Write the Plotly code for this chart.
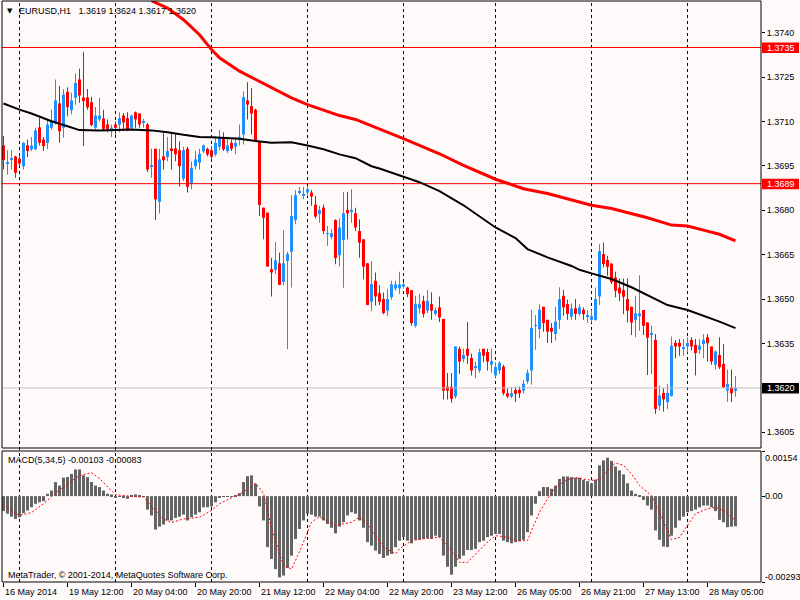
import plotly.graph_objects as go
from datetime import datetime, timedelta

# ---------------- data ----------------
# trading sessions shown (date, first hour, last hour) - H1 bars
sessions = [("2014-05-16", 19, 22), ("2014-05-19", 0, 23), ("2014-05-20", 0, 23),
            ("2014-05-21", 0, 23), ("2014-05-22", 0, 23), ("2014-05-23", 0, 22),
            ("2014-05-26", 0, 23), ("2014-05-27", 0, 23), ("2014-05-28", 0, 12)]

open_ = [1.37019, 1.36958, 1.36970, 1.36982, 1.36974, 1.36949, 1.37019, 1.37006, 1.37006, 1.37080,
         1.37039, 1.37028, 1.37079, 1.37096, 1.37161, 1.37079, 1.37200, 1.37138, 1.37180, 1.37242,
         1.37181, 1.37181, 1.37165, 1.37079, 1.37107, 1.37110, 1.37090, 1.37067, 1.37090, 1.37089,
         1.37120, 1.37111, 1.37079, 1.37131, 1.37127, 1.37098, 1.37090, 1.36949, 1.37008, 1.36828,
         1.36982, 1.36980, 1.37009, 1.37009, 1.37003, 1.36907, 1.37008, 1.36891, 1.36949, 1.36961,
         1.36999, 1.37008, 1.37003, 1.36989, 1.37015, 1.37043, 1.37000, 1.37028, 1.37015, 1.37037,
         1.37056, 1.37171, 1.37152, 1.37140, 1.37034, 1.36809, 1.36792, 1.36601, 1.36599, 1.36621,
         1.36558, 1.36629, 1.36660, 1.36767, 1.36860, 1.36850, 1.36860, 1.36860, 1.36819, 1.36787,
         1.36809, 1.36721, 1.36710, 1.36767, 1.36648, 1.36700, 1.36801, 1.36797, 1.36790, 1.36730,
         1.36702, 1.36621, 1.36491, 1.36562, 1.36520, 1.36500, 1.36461, 1.36506, 1.36536, 1.36536,
         1.36542, 1.36539, 1.36530, 1.36410, 1.36469, 1.36494, 1.36461, 1.36483, 1.36450, 1.36472,
         1.36433, 1.36204, 1.36204, 1.36171, 1.36332, 1.36298, 1.36332, 1.36301, 1.36268, 1.36259,
         1.36332, 1.36321, 1.36278, 1.36242, 1.36259, 1.36272, 1.36182, 1.36171, 1.36193, 1.36193,
         1.36191, 1.36222, 1.36259, 1.36410, 1.36399, 1.36474, 1.36430, 1.36403, 1.36382, 1.36430,
         1.36511, 1.36483, 1.36441, 1.36469, 1.36450, 1.36464, 1.36441, 1.36430, 1.36430, 1.36509,
         1.36652, 1.36632, 1.36620, 1.36573, 1.36539, 1.36530, 1.36500, 1.36474, 1.36430, 1.36442,
         1.36463, 1.36421, 1.36381, 1.36362, 1.36140, 1.36183, 1.36152, 1.36172, 1.36352, 1.36352,
         1.36332, 1.36340, 1.36362, 1.36345, 1.36329, 1.36348, 1.36371, 1.36340, 1.36278, 1.36311,
         1.36281, 1.36191, 1.36202, 1.36190]
high = [1.37051, 1.37003, 1.37003, 1.36984, 1.36983, 1.37030, 1.37039, 1.37048, 1.37079, 1.37112,
        1.37048, 1.37107, 1.37140, 1.37242, 1.37221, 1.37210, 1.37216, 1.37197, 1.37262, 1.37278,
        1.37336, 1.37210, 1.37183, 1.37149, 1.37180, 1.37140, 1.37107, 1.37090, 1.37101, 1.37131,
        1.37129, 1.37131, 1.37124, 1.37134, 1.37129, 1.37109, 1.37096, 1.37008, 1.37008, 1.37008,
        1.37062, 1.37048, 1.37060, 1.37060, 1.37033, 1.37015, 1.37015, 1.36965, 1.37000, 1.37008,
        1.37022, 1.37011, 1.37017, 1.37051, 1.37071, 1.37064, 1.37045, 1.37039, 1.37048, 1.37090,
        1.37202, 1.37233, 1.37213, 1.37143, 1.37034, 1.36809, 1.36792, 1.36640, 1.36693, 1.36657,
        1.36733, 1.36660, 1.36851, 1.36869, 1.36880, 1.36880, 1.36882, 1.36869, 1.36848, 1.36815,
        1.36820, 1.36747, 1.36736, 1.36770, 1.36772, 1.36862, 1.36862, 1.36871, 1.36809, 1.36770,
        1.36702, 1.36621, 1.36629, 1.36590, 1.36547, 1.36522, 1.36534, 1.36562, 1.36562, 1.36592,
        1.36558, 1.36542, 1.36530, 1.36511, 1.36517, 1.36511, 1.36531, 1.36523, 1.36472, 1.36509,
        1.36433, 1.36250, 1.36250, 1.36340, 1.36340, 1.36332, 1.36423, 1.36315, 1.36289, 1.36332,
        1.36332, 1.36332, 1.36332, 1.36287, 1.36289, 1.36278, 1.36199, 1.36203, 1.36203, 1.36205,
        1.36227, 1.36262, 1.36464, 1.36446, 1.36483, 1.36474, 1.36430, 1.36419, 1.36474, 1.36540,
        1.36531, 1.36498, 1.36485, 1.36500, 1.36483, 1.36472, 1.36463, 1.36463, 1.36539, 1.36685,
        1.36691, 1.36646, 1.36620, 1.36592, 1.36570, 1.36570, 1.36570, 1.36474, 1.36511, 1.36581,
        1.36463, 1.36421, 1.36410, 1.36382, 1.36208, 1.36199, 1.36214, 1.36374, 1.36362, 1.36365,
        1.36365, 1.36371, 1.36371, 1.36365, 1.36365, 1.36382, 1.36382, 1.36340, 1.36326, 1.36371,
        1.36348, 1.36262, 1.36262, 1.36240]
low = [1.36938, 1.36921, 1.36938, 1.36910, 1.36949, 1.36938, 1.36980, 1.37000, 1.37003, 1.37019,
       1.37000, 1.37006, 1.37073, 1.37090, 1.37028, 1.37045, 1.37118, 1.37124, 1.37157, 1.37163,
       1.37017, 1.37140, 1.37084, 1.37075, 1.37101, 1.37067, 1.37064, 1.37048, 1.37056, 1.37064,
       1.37067, 1.37067, 1.37071, 1.37079, 1.37079, 1.37079, 1.36929, 1.36910, 1.36767, 1.36789,
       1.36938, 1.36966, 1.36938, 1.36966, 1.36880, 1.36899, 1.36860, 1.36871, 1.36938, 1.36938,
       1.36994, 1.36983, 1.36972, 1.36983, 1.37003, 1.37000, 1.36994, 1.37000, 1.36989, 1.37019,
       1.37022, 1.37107, 1.37056, 1.37031, 1.36781, 1.36702, 1.36610, 1.36509, 1.36584, 1.36548,
       1.36547, 1.36331, 1.36539, 1.36753, 1.36854, 1.36837, 1.36848, 1.36815, 1.36772, 1.36758,
       1.36719, 1.36680, 1.36702, 1.36618, 1.36610, 1.36538, 1.36702, 1.36758, 1.36730, 1.36640,
       1.36567, 1.36480, 1.36461, 1.36478, 1.36480, 1.36449, 1.36442, 1.36498, 1.36528, 1.36517,
       1.36536, 1.36506, 1.36410, 1.36404, 1.36451, 1.36438, 1.36453, 1.36430, 1.36444, 1.36423,
       1.36161, 1.36161, 1.36150, 1.36163, 1.36247, 1.36287, 1.36281, 1.36242, 1.36233, 1.36251,
       1.36287, 1.36259, 1.36251, 1.36236, 1.36247, 1.36175, 1.36166, 1.36166, 1.36152, 1.36166,
       1.36180, 1.36214, 1.36211, 1.36329, 1.36368, 1.36390, 1.36352, 1.36352, 1.36360, 1.36399,
       1.36444, 1.36430, 1.36430, 1.36430, 1.36445, 1.36430, 1.36419, 1.36421, 1.36427, 1.36480,
       1.36607, 1.36579, 1.36551, 1.36506, 1.36494, 1.36449, 1.36421, 1.36379, 1.36371, 1.36393,
       1.36379, 1.36244, 1.36247, 1.36112, 1.36124, 1.36120, 1.36129, 1.36172, 1.36300, 1.36309,
       1.36309, 1.36320, 1.36326, 1.36242, 1.36315, 1.36300, 1.36289, 1.36278, 1.36262, 1.36264,
       1.36199, 1.36152, 1.36152, 1.36170]
close = [1.36970, 1.36963, 1.36974, 1.36927, 1.36958, 1.37028, 1.37000, 1.37019, 1.37070, 1.37028,
         1.37017, 1.37090, 1.37101, 1.37171, 1.37067, 1.37191, 1.37148, 1.37171, 1.37230, 1.37188,
         1.37169, 1.37148, 1.37088, 1.37120, 1.37120, 1.37075, 1.37075, 1.37079, 1.37079, 1.37111,
         1.37097, 1.37070, 1.37120, 1.37107, 1.37090, 1.37100, 1.36938, 1.36951, 1.36837, 1.36972,
         1.36969, 1.37000, 1.37000, 1.36989, 1.36949, 1.37003, 1.36879, 1.36943, 1.36972, 1.36991,
         1.37019, 1.36989, 1.36981, 1.37028, 1.37048, 1.37006, 1.37019, 1.37008, 1.37028, 1.37048,
         1.37182, 1.37157, 1.37127, 1.37034, 1.36818, 1.36775, 1.36610, 1.36590, 1.36631, 1.36548,
         1.36621, 1.36652, 1.36781, 1.36851, 1.36862, 1.36852, 1.36871, 1.36846, 1.36779, 1.36801,
         1.36730, 1.36723, 1.36722, 1.36639, 1.36742, 1.36790, 1.36790, 1.36800, 1.36742, 1.36691,
         1.36610, 1.36480, 1.36551, 1.36509, 1.36491, 1.36453, 1.36500, 1.36550, 1.36550, 1.36550,
         1.36550, 1.36517, 1.36419, 1.36483, 1.36483, 1.36450, 1.36494, 1.36461, 1.36463, 1.36438,
         1.36191, 1.36191, 1.36163, 1.36340, 1.36289, 1.36311, 1.36309, 1.36259, 1.36271, 1.36321,
         1.36309, 1.36289, 1.36290, 1.36270, 1.36285, 1.36182, 1.36171, 1.36182, 1.36180, 1.36182,
         1.36214, 1.36251, 1.36403, 1.36412, 1.36464, 1.36419, 1.36390, 1.36390, 1.36424, 1.36500,
         1.36472, 1.36450, 1.36468, 1.36450, 1.36472, 1.36449, 1.36443, 1.36442, 1.36500, 1.36662,
         1.36618, 1.36609, 1.36558, 1.36528, 1.36519, 1.36508, 1.36461, 1.36421, 1.36452, 1.36452,
         1.36410, 1.36370, 1.36383, 1.36129, 1.36174, 1.36161, 1.36183, 1.36343, 1.36340, 1.36340,
         1.36335, 1.36352, 1.36340, 1.36318, 1.36343, 1.36362, 1.36351, 1.36289, 1.36323, 1.36270,
         1.36202, 1.36214, 1.36182, 1.36200]

# moving averages (read at sample bars)
ma_black_idx = [0, 4, 7, 12, 16, 19, 24, 32, 37, 41, 45, 49, 52, 59, 63, 67, 72, 74, 76, 80, 84, 88,
                92, 94, 97, 100, 104, 109, 115, 123, 128, 131, 136, 142, 144, 147, 152, 157, 162,
                166, 171, 175, 179, 183]
ma_black_val = [1.37161, 1.37140, 1.37127, 1.37101, 1.37084, 1.37071, 1.37070, 1.37073, 1.37070,
                1.37064, 1.37055, 1.37048, 1.37047, 1.37042, 1.37034, 1.37028, 1.37030, 1.37025,
                1.37019, 1.37006, 1.36989, 1.36976, 1.36949, 1.36941, 1.36927, 1.36912, 1.36895,
                1.36865, 1.36817, 1.36742, 1.36706, 1.36669, 1.36641, 1.36612, 1.36599, 1.36587,
                1.36568, 1.36540, 1.36506, 1.36480, 1.36463, 1.36444, 1.36424, 1.36402]
ma_red_idx = [37, 41, 45, 49, 52, 54, 59, 63, 68, 72, 76, 80, 84, 88, 93, 100, 109, 115, 123, 130,
              136, 147, 152, 161, 167, 171, 175, 179, 183]
ma_red_val = [1.37508, 1.37483, 1.37444, 1.37393, 1.37343, 1.37315, 1.37270, 1.37242, 1.37208,
              1.37180, 1.37157, 1.37138, 1.37120, 1.37107, 1.37081, 1.37042, 1.36991, 1.36952,
              1.36905, 1.36873, 1.36857, 1.36817, 1.36806, 1.36775, 1.36750, 1.36747, 1.36733,
              1.36719, 1.36697]

# MACD(5,34,5) histogram, one value per bar
macd = [-0.00051, -0.00060, -0.00070, -0.00078, -0.00072, -0.00058, -0.00049, -0.00038, -0.00026, -0.00021,
        -0.00017, 0.00008, 0.00019, 0.00048, 0.00036, 0.00063, 0.00065, 0.00076, 0.00091, 0.00091,
        0.00071, 0.00065, 0.00048, 0.00036, 0.00031, 0.00019, 0.00008, 0.00006, -0.00003, -0.00001,
        -0.00003, -0.00009, 0.00002, 0.00006, 0.00002, -0.00001, -0.00046, -0.00066, -0.00114, -0.00104,
        -0.00097, -0.00083, -0.00083, -0.00074, -0.00070, -0.00063, -0.00083, -0.00072, -0.00063, -0.00055,
        -0.00038, -0.00038, -0.00035, -0.00021, -0.00003, -0.00001, -0.00001, -0.00001, 0.00002, 0.00010,
        0.00048, 0.00068, 0.00071, 0.00042, -0.00035, -0.00083, -0.00174, -0.00214, -0.00249, -0.00277,
        -0.00271, -0.00245, -0.00203, -0.00146, -0.00112, -0.00083, -0.00060, -0.00063, -0.00070, -0.00070,
        -0.00083, -0.00095, -0.00108, -0.00127, -0.00104, -0.00089, -0.00066, -0.00055, -0.00060, -0.00083,
        -0.00108, -0.00157, -0.00169, -0.00186, -0.00197, -0.00211, -0.00203, -0.00197, -0.00174, -0.00152,
        -0.00140, -0.00152, -0.00161, -0.00149, -0.00149, -0.00146, -0.00143, -0.00146, -0.00135, -0.00140,
        -0.00203, -0.00241, -0.00268, -0.00241, -0.00214, -0.00203, -0.00184, -0.00184, -0.00180, -0.00157,
        -0.00152, -0.00140, -0.00135, -0.00129, -0.00129, -0.00152, -0.00157, -0.00161, -0.00157, -0.00154,
        -0.00149, -0.00123, -0.00066, -0.00026, 0.00017, 0.00031, 0.00031, 0.00025, 0.00036, 0.00059,
        0.00067, 0.00067, 0.00065, 0.00063, 0.00063, 0.00056, 0.00051, 0.00044, 0.00056, 0.00105,
        0.00122, 0.00131, 0.00120, 0.00101, 0.00088, 0.00074, 0.00044, 0.00019, 0.00008, 0.00002,
        -0.00013, -0.00032, -0.00046, -0.00117, -0.00149, -0.00172, -0.00174, -0.00135, -0.00108, -0.00083,
        -0.00070, -0.00055, -0.00051, -0.00046, -0.00038, -0.00032, -0.00032, -0.00038, -0.00051, -0.00081,
        -0.00089, -0.00106, -0.00104, -0.00103]
sig_idx = [0, 4, 7, 10, 13, 16, 19, 22, 24, 27, 28, 32, 35, 37, 40, 42, 45, 49, 52, 54,
           57, 60, 63, 65, 67, 70, 72, 74, 77, 79, 83, 87, 89, 91, 95, 98, 99, 102, 104, 109,
           112, 114, 116, 118, 121, 123, 126, 128, 131, 132, 134, 136, 138, 141, 143, 147, 149, 152, 153, 155,
           157, 159, 162, 164, 166, 167, 169, 172, 173, 176, 178, 180, 182, 183]
sig_val = [-0.00032, -0.00066, -0.00056, -0.00026, 0.00010, 0.00042, 0.00070, 0.00080, 0.00060, 0.00018,
           0.00005, -0.00001, -0.00003, -0.00035, -0.00078, -0.00090, -0.00078, -0.00072, -0.00049, -0.00026,
           -0.00005, 0.00014, 0.00044, 0.00010, -0.00110, -0.00237, -0.00249, -0.00190, -0.00089, -0.00070,
           -0.00100, -0.00089, -0.00072, -0.00095, -0.00174, -0.00197, -0.00180, -0.00152, -0.00147, -0.00140,
           -0.00186, -0.00226, -0.00226, -0.00197, -0.00157, -0.00135, -0.00140, -0.00152, -0.00152, -0.00117,
           -0.00055, -0.00009, 0.00031, 0.00056, 0.00063, 0.00054, 0.00056, 0.00101, 0.00113, 0.00105,
           0.00076, 0.00036, 0.00002, -0.00055, -0.00117, -0.00149, -0.00140, -0.00083, -0.00060, -0.00043,
           -0.00038, -0.00049, -0.00072, -0.00083]

hlines = [1.3735, 1.3689]
price_ticks = [1.3605, 1.3620, 1.3635, 1.3650, 1.3665, 1.3680, 1.3695, 1.3710, 1.3725, 1.3740]
macd_ticks = [0.00154, 0.0, -0.00293]
macd_tick_text = ["0.00154", "0.00", "-0.00293"]
time_tick_times = ["2014-05-16 19:00", "2014-05-19 12:00", "2014-05-20 04:00", "2014-05-20 20:00",
                   "2014-05-21 12:00", "2014-05-22 04:00", "2014-05-22 20:00", "2014-05-23 12:00",
                   "2014-05-26 05:00", "2014-05-26 21:00", "2014-05-27 13:00", "2014-05-28 05:00"]
time_tick_text = ["16 May 2014", "19 May 12:00", "20 May 04:00", "20 May 20:00", "21 May 12:00",
                  "22 May 04:00", "22 May 20:00", "23 May 12:00", "26 May 05:00", "26 May 21:00",
                  "27 May 13:00", "28 May 05:00"]

# ---------------- build ----------------
times = []
for d, h0, h1 in sessions:
    base = datetime.strptime(d, "%Y-%m-%d")
    for h in range(h0, h1 + 1):
        times.append(base + timedelta(hours=h))
idx = list(range(len(times)))
tick_idx = [times.index(datetime.strptime(t, "%Y-%m-%d %H:%M")) for t in time_tick_times]
day_starts = [i for i in idx[1:] if times[i].date() != times[i - 1].date()]

BG = "#FFFAFA"
BULL = "#1E90FF"
BEAR = "#FF0000"
FONT = "Liberation Sans"
FS = 9
X_RANGE = [-0.375, 189.375]

colors = [BULL if c >= o else BEAR for o, c in zip(open_, close)]
body_base = [min(o, c) for o, c in zip(open_, close)]
body_h = [abs(c - o) for o, c in zip(open_, close)]
wick_h = [h - l for h, l in zip(high, low)]

fig = go.Figure()
# horizontal level lines and bid line (behind the candles)
for p in hlines:
    fig.add_trace(go.Scatter(x=X_RANGE, y=[p, p], mode="lines", line=dict(color="#FF0000", width=1),
                             yaxis="y", hoverinfo="skip"))
fig.add_trace(go.Scatter(x=X_RANGE, y=[close[-1], close[-1]], mode="lines",
                         line=dict(color="#C0C0C0", width=1), yaxis="y", hoverinfo="skip"))
fig.add_trace(go.Bar(x=idx, y=wick_h, base=low, width=0.25, marker=dict(color=colors, line=dict(width=0)),
                     yaxis="y", hoverinfo="skip"))
fig.add_trace(go.Bar(x=idx, y=body_h, base=body_base, width=0.75, marker=dict(color=colors, line=dict(width=0)),
                     yaxis="y", hoverinfo="skip"))
fig.add_trace(go.Scatter(x=ma_black_idx, y=ma_black_val, mode="lines", line=dict(color="black", width=2),
                         yaxis="y"))
fig.add_trace(go.Scatter(x=ma_red_idx, y=ma_red_val, mode="lines", line=dict(color="#FF0000", width=3),
                         yaxis="y"))
fig.add_trace(go.Bar(x=idx, y=macd, width=0.75, marker=dict(color="#646464", line=dict(width=0)),
                     yaxis="y2"))
fig.add_trace(go.Scatter(x=sig_idx, y=sig_val, mode="lines",
                         line=dict(color="#FF0000", width=1, dash="2px,2px"), yaxis="y2"))

MAIN_DOM = [0.23064, 1.0]
MACD_DOM = [0.0, 0.22547]

shapes = []
for d in day_starts:
    shapes.append(dict(type="line", xref="x", yref="paper", x0=d, x1=d, y0=0, y1=1, layer="below",
                       line=dict(color="black", width=1, dash="3px,3px")))
# panel frames
for dom in (MAIN_DOM, MACD_DOM):
    shapes.append(dict(type="rect", xref="paper", yref="paper", x0=0, x1=1, y0=dom[0], y1=dom[1],
                       line=dict(color="black", width=1), fillcolor="rgba(0,0,0,0)"))

annotations = []
# price labels for horizontal lines
for p, bg in [(hlines[0], "#FF0000"), (hlines[1], "#FF0000"), (close[-1], "#000000")]:
    shapes.append(dict(type="rect", xref="paper", xsizemode="pixel", xanchor=1, x0=1, x1=38,
                       yref="y", ysizemode="pixel", yanchor=p, y0=-5.5, y1=5,
                       fillcolor=bg, line=dict(width=0)))
    annotations.append(dict(xref="paper", x=1, xanchor="left", xshift=4, yref="y", y=p,
                            yanchor="middle", text=f"{p:.4f}", showarrow=False,
                            font=dict(family=FONT, size=FS, color="white")))
# MACD axis labels
for v, t, sh in zip(macd_ticks, macd_tick_text, [-7, 0, 5]):
    annotations.append(dict(xref="paper", x=1, xanchor="left", xshift=2, yref="y2", y=v,
                            yanchor="middle", yshift=sh, text=t, showarrow=False,
                            font=dict(family=FONT, size=FS, color="black")))
# time labels
for i, t in zip(tick_idx, time_tick_text):
    annotations.append(dict(xref="x", x=i, xanchor="left", xshift=-1, yref="paper", y=0,
                            yanchor="middle", yshift=-9.7, text=t, showarrow=False,
                            font=dict(family=FONT, size=FS, color="black")))
# header texts
annotations.append(dict(xref="paper", x=0, xanchor="left", xshift=3, yref="paper", y=1, yanchor="middle",
                        yshift=-9.5, text="\u25BC", showarrow=False,
                        font=dict(family="DejaVu Sans", size=7, color="black")))
annotations.append(dict(xref="paper", x=0, xanchor="left", xshift=15, yref="paper", y=1, yanchor="middle",
                        yshift=-9.5,
                        text=f"EURUSD,H1\u00a0\u00a0\u00a0{open_[-1]:.4f} {high[-1]:.4f} {low[-1]:.4f} {close[-1]:.4f}",
                        showarrow=False, font=dict(family=FONT, size=FS, color="black")))
annotations.append(dict(xref="paper", x=0, xanchor="left", xshift=4, yref="paper", y=MACD_DOM[1],
                        yanchor="middle", yshift=-9,
                        text=f"MACD(5,34,5) {macd[-1]:.5f} {sig_val[-1]:.5f}", showarrow=False,
                        font=dict(family=FONT, size=FS, color="black")))
annotations.append(dict(xref="paper", x=0, xanchor="left", xshift=4, yref="paper", y=0,
                        yanchor="middle", yshift=7,
                        text="MetaTrader, \u00a9 2001-2014, MetaQuotes Software Corp.", showarrow=False,
                        font=dict(family=FONT, size=FS, color="black")))

fig.update_layout(
    width=800, height=600, margin=dict(l=2, r=39, t=1, b=18),
    paper_bgcolor=BG, plot_bgcolor=BG, showlegend=False, barmode="overlay",
    font=dict(family=FONT, size=FS, color="black"),
    hovermode=False,
    xaxis=dict(anchor="y2", range=X_RANGE, showgrid=False, zeroline=False, showline=False,
               tickmode="array", tickvals=tick_idx, ticks="outside", ticklen=4, tickcolor="black",
               showticklabels=False),
    yaxis=dict(domain=MAIN_DOM, anchor="x", side="right", range=[1.359970, 1.375071],
               showgrid=False, zeroline=False, showline=False, tickmode="array", tickvals=price_ticks,
               tickformat=".4f", ticks="outside", ticklen=3, tickcolor="black",
               tickfont=dict(family=FONT, size=FS, color="black")),
    yaxis2=dict(domain=MACD_DOM, anchor="x", side="right", range=[-0.00293, 0.00154],
                showgrid=False, zeroline=False, showline=False, tickmode="array", tickvals=macd_ticks,
                ticks="outside", ticklen=3, tickcolor="black", showticklabels=False),
    shapes=shapes, annotations=annotations,
)

fig.write_html("out.html", config={"displayModeBar": False},
               post_script="document.body.style.margin='0px';")
